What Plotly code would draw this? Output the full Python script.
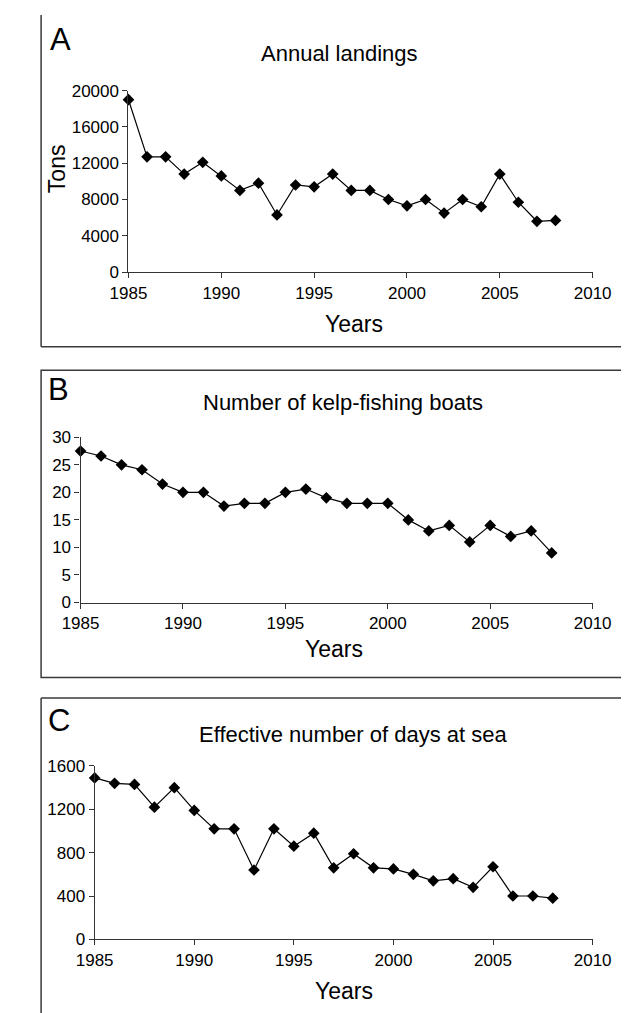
import plotly.graph_objects as go

W, H = 629, 1013

years = list(range(1985, 2009))
landings = [19000, 12700, 12700, 10800, 12100, 10600, 9000, 9800, 6300, 9600,
            9400, 10800, 9000, 9000, 8000, 7300, 8000, 6500, 8000, 7200,
            10800, 7700, 5600, 5700]
boats = [27.5, 26.6, 25.0, 24.1, 21.5, 20, 20, 17.5, 18, 18,
         20, 20.6, 19, 18, 18, 18, 15, 13, 14, 11,
         14, 12, 13, 9]
days = [1490, 1440, 1430, 1220, 1400, 1190, 1020, 1020, 640, 1020,
        860, 980, 660, 790, 660, 650, 600, 540, 560, 480,
        670, 400, 400, 380]

x_ticks = [1985, 1990, 1995, 2000, 2005, 2010]
yticks_a = [0, 4000, 8000, 12000, 16000, 20000]
yticks_b = [0, 5, 10, 15, 20, 25, 30]
yticks_c = [0, 400, 800, 1200, 1600]

titles = ["Annual landings", "Number of kelp-fishing boats", "Effective number of days at sea"]
letters = ["A", "B", "C"]

FONT = "Liberation Sans, Arial, sans-serif"


def px(x):
    return x / W


def py(y):
    return 1 - y / H


# plot area pixel boxes: (left, right, top, bottom)
boxes = [(108, 602, 75, 260), (57, 602, 428.3, 596.7), (72, 602, 763.3, 940)]
series = [landings, boats, days]
yticks = [yticks_a, yticks_b, yticks_c]
yranges = [[0, 20000], [0, 30], [0, 1600]]

fig = go.Figure()
layout = dict(
    width=W, height=H, margin=dict(l=0, r=0, t=0, b=0),
    paper_bgcolor="white", plot_bgcolor="white", showlegend=False,
    font=dict(family=FONT, color="black"),
)

for i in range(3):
    sfx = "" if i == 0 else str(i + 1)
    l, r, t, b = boxes[i]
    fig.add_trace(go.Scatter(
        x=years, y=series[i], mode="lines+markers",
        line=dict(color="black", width=1.2),
        marker=dict(symbol="diamond", size=9, color="black"),
        cliponaxis=False,
        xaxis="x" + sfx, yaxis="y" + sfx,
    ))
    layout["xaxis" + sfx] = dict(
        domain=[px(l), px(r)], range=[1985, 2010], anchor="y" + sfx,
        tickvals=x_ticks, ticktext=[str(v) for v in x_ticks],
        ticks="outside", ticklen=5, tickcolor="#333",
        showline=True, linecolor="#333", linewidth=1.2, showgrid=False, zeroline=False,
        tickfont=dict(size=17, family=FONT, color="black"),
    )
    layout["yaxis" + sfx] = dict(
        domain=[py(b), py(t)], range=yranges[i], anchor="x" + sfx,
        tickvals=yticks[i], ticktext=[str(v) for v in yticks[i]],
        ticks="outside", ticklen=5, tickcolor="#333",
        showline=True, linecolor="#333", linewidth=1.2, showgrid=False, zeroline=False,
        tickfont=dict(size=17, family=FONT, color="black"),
    )

fig.update_layout(**layout)

annotations = []
# title positions (center x, center y) in pixels
title_pos = [(333, 37), (336, 393), (348, 731)]
letter_pos = [(36, 23), (33, 380), (34, 717)]
years_pos = [(348, 313), (327, 644), (337, 993)]
for i in range(3):
    tx, ty = title_pos[i]
    annotations.append(dict(x=px(tx), y=py(ty), xref="paper", yref="paper", text=titles[i],
                            showarrow=False, xanchor="center", yanchor="middle",
                            font=dict(size=22, family=FONT, color="black")))
    lx, ly = letter_pos[i]
    annotations.append(dict(x=px(lx), y=py(ly), xref="paper", yref="paper", text=letters[i],
                            showarrow=False, xanchor="center", yanchor="middle",
                            font=dict(size=31, family=FONT, color="black")))
    yx, yy = years_pos[i]
    annotations.append(dict(x=px(yx), y=py(yy), xref="paper", yref="paper", text="Years",
                            showarrow=False, xanchor="center", yanchor="middle",
                            font=dict(size=23, family=FONT, color="black")))
annotations.append(dict(x=px(32), y=py(155), xref="paper", yref="paper", text="Tons",
                        showarrow=False, xanchor="center", yanchor="middle", textangle=-90,
                        font=dict(size=23, family=FONT, color="black")))
fig.update_layout(annotations=annotations)

bc = "#3a3a3a"
bw = 1.5
shapes = [
    # panel A: left and bottom
    dict(type="line", xref="paper", yref="paper", x0=px(15), x1=px(15), y0=py(-2), y1=py(336), line=dict(color=bc, width=bw)),
    dict(type="line", xref="paper", yref="paper", x0=px(15), x1=px(640), y0=py(336), y1=py(336), line=dict(color=bc, width=bw)),
    # panel B box
    dict(type="rect", xref="paper", yref="paper", x0=px(15), x1=px(640), y0=py(673), y1=py(360), line=dict(color=bc, width=bw)),
    # panel C: top and left
    dict(type="line", xref="paper", yref="paper", x0=px(15), x1=px(640), y0=py(694), y1=py(694), line=dict(color=bc, width=bw)),
    dict(type="line", xref="paper", yref="paper", x0=px(15), x1=px(15), y0=py(694), y1=py(1020), line=dict(color=bc, width=bw)),
]
fig.update_layout(shapes=shapes)

fig.write_html("out.html")
